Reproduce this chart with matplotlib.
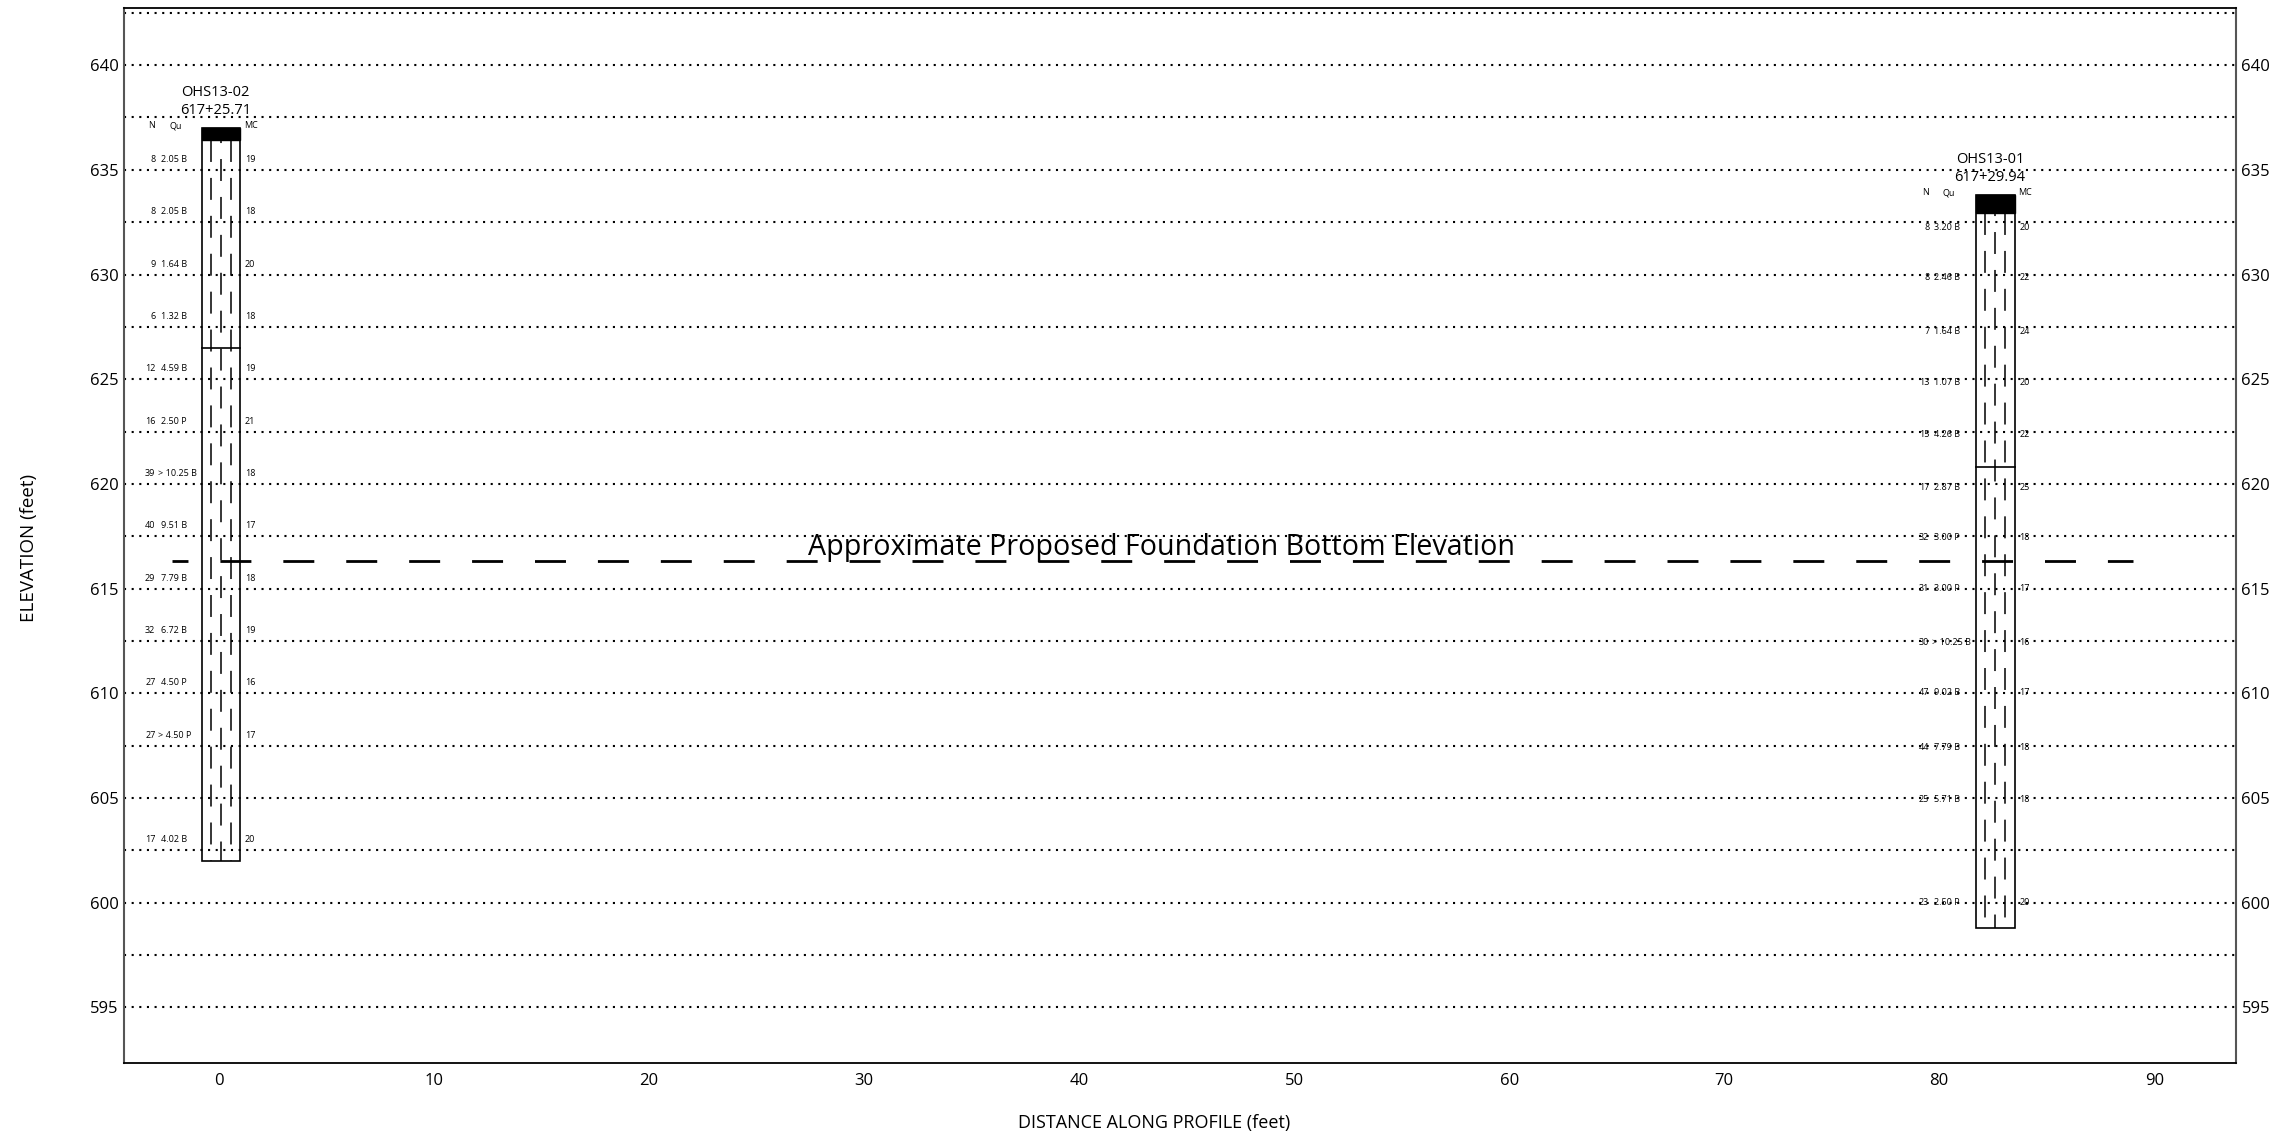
import matplotlib.pyplot as plt
from matplotlib.patches import Rectangle

plt.rcParams['font.family'] = ['Open Sans', 'DejaVu Sans']
plt.rcParams['lines.scale_dashes'] = False

# boring OHS13-02 (left)
b1_name = "OHS13-02"
b1_station = "617+25.71"
b1_x = (-0.80, 0.98)          # column edges (feet along profile)
b1_top = 637.0
b1_cap = 636.4
b1_bottom = 602.0
b1_strata = [626.5]
b1_elev = [635.5, 633.0, 630.5, 628.0, 625.5, 623.0, 620.5, 618.0, 615.5, 613.0, 610.5, 608.0, 603.0]
b1_n = ["8", "8", "9", "6", "12", "16", "39", "40", "29", "32", "27", "27", "17"]
b1_qu = ["2.05 B", "2.05 B", "1.64 B", "1.32 B", "4.59 B", "2.50 P", "> 10.25 B", "9.51 B",
         "7.79 B", "6.72 B", "4.50 P", "> 4.50 P", "4.02 B"]
b1_mc = ["19", "18", "20", "18", "19", "21", "18", "17", "18", "19", "16", "17", "20"]

# boring OHS13-01 (right)
b2_name = "OHS13-01"
b2_station = "617+29.94"
b2_x = (81.70, 83.51)
b2_top = 633.8
b2_cap = 632.95
b2_bottom = 598.8
b2_strata = [620.8]
b2_elev = [632.25, 629.85, 627.3, 624.85, 622.35, 619.85, 617.45, 615.0, 612.45, 610.05, 607.4, 604.95, 600.0]
b2_n = ["8", "8", "7", "13", "15", "17", "32", "31", "30", "47", "44", "25", "23"]
b2_qu = ["3.20 B", "2.46 B", "1.64 B", "1.07 B", "4.26 B", "2.87 B", "3.00 P", "3.00 P",
         "> 10.25 B", "9.02 B", "7.79 B", "5.71 B", "2.50 P"]
b2_mc = ["20", "22", "24", "20", "22", "25", "18", "17", "16", "17", "18", "18", "20"]

foundation_elev = 616.3
foundation_x = (-2.2, 89.0)
foundation_label = "Approximate Proposed Foundation Bottom Elevation"

grid_elev = [595 + 2.5 * i for i in range(20)]
x_ticks = [0, 10, 20, 30, 40, 50, 60, 70, 80, 90]
y_ticks = [595, 600, 605, 610, 615, 620, 625, 630, 635, 640]

fig = plt.figure(figsize=(22.79, 11.37), dpi=100)
ax = fig.add_axes([0.0544, 0.0651, 0.9267, 0.9283])
ax.set_xlim(-4.42, 93.8)
ax.set_ylim(592.35, 642.75)

# dotted elevation lines, drawn in two halves like the original sheet
for y in grid_elev:
    for xa, xb in [(-4.42, 44.6), (44.6, 93.8)]:
        ax.plot([xa, xb], [y, y], color='black', lw=1.5,
                linestyle=(0, (1.5, 4.0)), zorder=1)

small = 6.5


def draw_boring(name, station, xs, top, cap, bottom, strata, elev, n, qu, mc):
    x0, x1 = xs
    w = x1 - x0
    ax.add_patch(Rectangle((x0, bottom), w, top - bottom, fill=False,
                           ec='black', lw=1.2, zorder=3))
    ax.add_patch(Rectangle((x0, cap), w, top - cap, fc='black',
                           ec='black', lw=1.0, zorder=3))
    for s in strata:
        ax.plot([x0, x1], [s, s], color='black', lw=1.2, zorder=3)
    # clay hatch: three dashed verticals
    for k, off in [(0.25, 0), (0.5, 13.6), (0.75, 0)]:
        xl = x0 + k * w
        ax.plot([xl, xl], [cap, bottom], color='black', lw=1.1,
                linestyle=(off, (15.8, 11.5)), zorder=3)
    xc = (x0 + x1) / 2 - 0.24
    ax.text(xc, top + 1.7, name, ha='center', va='center', fontsize=10.5)
    ax.text(xc, top + 0.85, station, ha='center', va='center', fontsize=10.5)
    ax.text(x0 - 2.16, top + 0.1, "N", ha='right', va='center', fontsize=small)
    ax.text(x0 - 0.95, top + 0.1, "Qu", ha='right', va='center', fontsize=small)
    ax.text(x1 + 0.18, top + 0.1, "MC", ha='left', va='center', fontsize=small)
    for e, a, b, c in zip(elev, n, qu, mc):
        ax.text(x0 - 2.16, e, a, ha='right', va='center', fontsize=small)
        ax.text(x0 - 1.92 if not b.startswith('>') else x0 - 2.02, e, b,
                ha='left', va='center', fontsize=small)
        ax.text(x1 + 0.22, e, c, ha='left', va='center', fontsize=small)


draw_boring(b1_name, b1_station, b1_x, b1_top, b1_cap, b1_bottom, b1_strata,
            b1_elev, b1_n, b1_qu, b1_mc)
draw_boring(b2_name, b2_station, b2_x, b2_top, b2_cap, b2_bottom, b2_strata,
            b2_elev, b2_n, b2_qu, b2_mc)

ax.plot(foundation_x, [foundation_elev, foundation_elev], color='black', lw=2.0,
        linestyle=(10.8, (22.3, 23.0)), zorder=4)
ax.text(43.85, 616.95, foundation_label, ha='center', va='center',
        fontsize=20.6, zorder=5)

ax.set_xticks(x_ticks)
ax.set_yticks(y_ticks)
ax.tick_params(axis='both', length=0, labelsize=12)
ax.tick_params(axis='y', labelright=True, pad=4)
ax.tick_params(axis='x', pad=7)
fig.text(1154 / 2279, 1 - 1123 / 1137, "DISTANCE ALONG PROFILE (feet)",
         ha='center', va='center', fontsize=13)
fig.text(29 / 2279, 1 - 548 / 1137, "ELEVATION (feet)", rotation=90,
         ha='center', va='center', fontsize=13.5)

for side in ['left', 'right']:
    ax.spines[side].set_color('#555555')
    ax.spines[side].set_linewidth(1.5)
for side in ['top', 'bottom']:
    ax.spines[side].set_color('black')
    ax.spines[side].set_linewidth(1.3)

plt.savefig('out.png', dpi=100)
plt.close()
